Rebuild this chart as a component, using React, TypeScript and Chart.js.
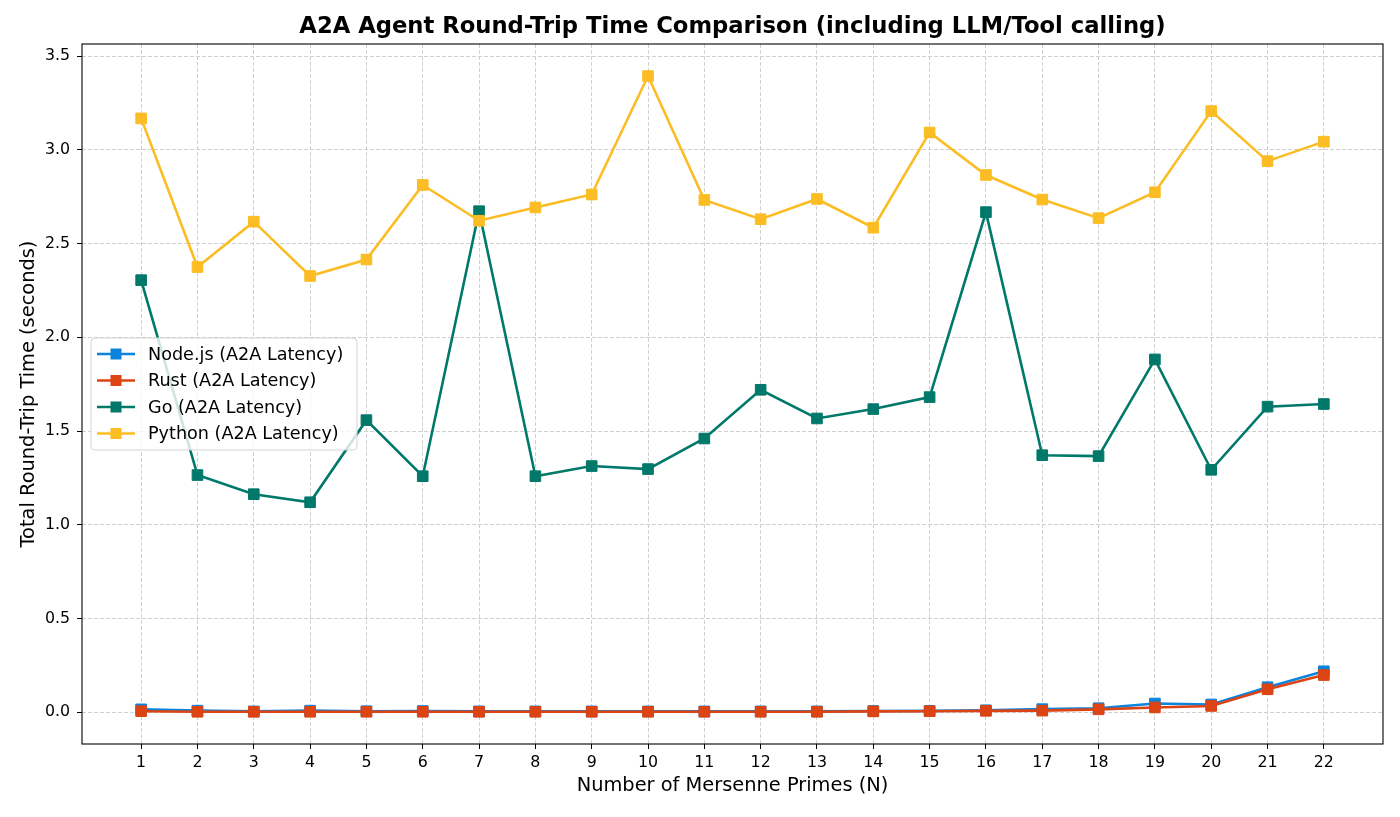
import React, { useEffect, useRef } from "react";
import { Chart, registerables } from "chart.js";

Chart.register(...registerables);

const N = [1, 2, 3, 4, 5, 6, 7, 8, 9, 10, 11, 12, 13, 14, 15, 16, 17, 18, 19, 20, 21, 22];
const nodeVals = [0.015, 0.008, 0.004, 0.008, 0.005, 0.006, 0.004, 0.004, 0.004, 0.004, 0.004, 0.004, 0.004, 0.006, 0.007, 0.01, 0.016, 0.021, 0.046, 0.041, 0.133, 0.218];
const rustVals = [0.005, 0.002, 0.002, 0.002, 0.002, 0.002, 0.002, 0.002, 0.002, 0.002, 0.002, 0.002, 0.002, 0.004, 0.005, 0.007, 0.008, 0.015, 0.025, 0.033, 0.122, 0.198];
const goVals = [2.305, 1.265, 1.163, 1.12, 1.558, 1.259, 2.673, 1.259, 1.313, 1.297, 1.46, 1.72, 1.567, 1.617, 1.681, 2.668, 1.371, 1.366, 1.882, 1.293, 1.63, 1.644];
const pythonVals = [3.168, 2.375, 2.617, 2.327, 2.415, 2.813, 2.622, 2.693, 2.762, 3.394, 2.733, 2.63, 2.738, 2.585, 3.093, 2.866, 2.735, 2.636, 2.774, 3.207, 2.94, 3.044];
const yTicks = [0, 0.5, 1.0, 1.5, 2.0, 2.5, 3.0, 3.5];

const seriesNames = ["Node.js (A2A Latency)", "Rust (A2A Latency)", "Go (A2A Latency)", "Python (A2A Latency)"];
const seriesColors = ["#0a84dc", "#dc4414", "#00786a", "#fbbd23"];
const seriesValues = [nodeVals, rustVals, goVals, pythonVals];

const TITLE = "A2A Agent Round-Trip Time Comparison (including LLM/Tool calling)";
const FONT = "'DejaVu Sans', 'Liberation Sans', sans-serif";

const overlayPlugin = {
  id: "overlay",
  afterDraw(chart: any) {
    const { ctx, chartArea: ca } = chart;
    ctx.save();
    // frame
    ctx.strokeStyle = "#000";
    ctx.lineWidth = 1.1;
    ctx.setLineDash([]);
    ctx.strokeRect(ca.left, ca.top, ca.right - ca.left, ca.bottom - ca.top);
    // title
    ctx.fillStyle = "#000";
    ctx.font = `bold 22.7px ${FONT}`;
    ctx.textAlign = "center";
    ctx.textBaseline = "middle";
    ctx.fillText(TITLE, (ca.left + ca.right) / 2, 27);
    // legend
    const bx = ca.left + 9;
    const by = ca.top + 294;
    const bw = 266;
    const bh = 112;
    ctx.beginPath();
    ctx.roundRect(bx, by, bw, bh, 4);
    ctx.fillStyle = "rgba(255,255,255,0.8)";
    ctx.fill();
    ctx.strokeStyle = "#d4d4d4";
    ctx.lineWidth = 1;
    ctx.stroke();
    ctx.font = `17.6px ${FONT}`;
    ctx.textAlign = "left";
    seriesNames.forEach((name, i) => {
      const cy = by + 16 + i * 26.5;
      ctx.strokeStyle = seriesColors[i];
      ctx.lineWidth = 2.6;
      ctx.beginPath();
      ctx.moveTo(bx + 6, cy);
      ctx.lineTo(bx + 44, cy);
      ctx.stroke();
      ctx.fillStyle = seriesColors[i];
      ctx.fillRect(bx + 25 - 5.5, cy - 5.5, 11, 11);
      ctx.fillStyle = "#000";
      ctx.fillText(name, bx + 57, cy + 1);
    });
    ctx.restore();
  },
};

export default function App() {
  const ref = useRef<HTMLCanvasElement | null>(null);
  useEffect(() => {
    document.body.style.margin = "0";
    Chart.defaults.color = "#000";
    Chart.defaults.font.family = FONT;
    const datasets = seriesValues.map((vals, i) => ({
      label: seriesNames[i],
      data: N.map((n, j) => ({ x: n, y: vals[j] })),
      borderColor: seriesColors[i],
      backgroundColor: seriesColors[i],
      borderWidth: 2.6,
      pointStyle: "rect" as const,
      pointRadius: 7.5,
      pointBorderWidth: 1,
      pointBorderColor: seriesColors[i],
      pointBackgroundColor: seriesColors[i],
      order: 3 - i,
      tension: 0,
    }));
    const gridOpts: any = {
      color: "#d0d0d0",
      lineWidth: 1,
      tickLength: 5,
      tickColor: "#000",
      tickWidth: 1,
      tickBorderDash: [],
    };
    const chart = new Chart(ref.current as HTMLCanvasElement, {
      type: "line",
      data: { datasets },
      options: {
        animation: false,
        responsive: true,
        maintainAspectRatio: false,
        layout: { padding: { top: 44, right: 17, left: 0, bottom: 0 } },
        plugins: {
          legend: { display: false },
          title: { display: false },
          tooltip: { enabled: false },
        },
        scales: {
          x: {
            type: "linear",
            min: -0.05,
            max: 23.05,
            afterBuildTicks: (scale: any) => {
              scale.ticks = N.map((v) => ({ value: v }));
            },
            afterFit: (scale: any) => {
              scale.height = 73;
            },
            ticks: {
              font: { size: 15.8 },
              padding: 4,
              maxRotation: 0,
              autoSkip: false,
              callback: (v: any) => String(v),
            },
            grid: gridOpts,
            border: { display: false, dash: [4, 2] },
            title: {
              display: true,
              text: "Number of Mersenne Primes (N)",
              font: { size: 19.4 },
              padding: { top: 0, bottom: 19.4 },
            },
          },
          y: {
            type: "linear",
            min: -0.17,
            max: 3.565,
            afterBuildTicks: (scale: any) => {
              scale.ticks = yTicks.map((v) => ({ value: v }));
            },
            afterFit: (scale: any) => {
              scale.width = 82;
            },
            ticks: {
              font: { size: 15.8 },
              padding: 7,
              callback: (v: any) => Number(v).toFixed(1),
            },
            grid: gridOpts,
            border: { display: false, dash: [4, 2] },
            title: {
              display: true,
              text: "Total Round-Trip Time (seconds)",
              font: { size: 19.4 },
              padding: { top: 17.4, bottom: 0 },
            },
          },
        },
      },
      plugins: [overlayPlugin],
    });
    return () => chart.destroy();
  }, []);
  return (
    <div style={{ width: 1400, height: 817, position: "relative" }}>
      <canvas ref={ref} />
    </div>
  );
}
